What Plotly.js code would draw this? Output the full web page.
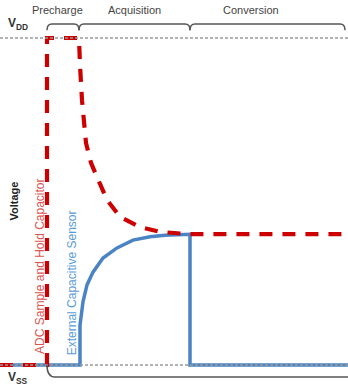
<!DOCTYPE html>
<html>
<head>
<meta charset="utf-8">
<script src="https://cdn.plot.ly/plotly-3.0.1.min.js"></script>
<style>
html,body{margin:0;padding:0;background:#fff;}
#chart{width:348px;height:385px;}
</style>
</head>
<body>
<div id="chart"></div>
<script>
// Time axis (arbitrary units) and voltage (0 = VSS, 1 = VDD)
var phaseNames = ['Precharge', 'Acquisition', 'Conversion'];
var phaseStart = [47, 79, 190];
var phaseEnd = [79, 190, 345];
var phaseLabelX = [57, 134, 251];

var adcTime = [0, 47, 47, 79, 79, 80, 82, 86, 91, 97, 107, 120, 140, 160, 190, 348];
var adcVolt = [0, 0, 1.0, 1.0, 1.0, 0.917, 0.81, 0.679, 0.618, 0.575, 0.505, 0.453, 0.422, 0.407, 0.40, 0.40];

var sensorTime = [0, 80, 80, 83, 87, 93, 103, 117, 133, 150, 165, 190, 190, 348];
var sensorVolt = [0, 0, 0.122, 0.193, 0.245, 0.284, 0.327, 0.358, 0.382, 0.392, 0.397, 0.40, 0, 0];

var vddLevel = 1.0, vssLevel = 0.0;

var W = 348, H = 385;
// voltage range chosen so VDD/VSS fall at their positions in the frame
var yTop = 365 / 327, yBot = -20 / 327;

var traces = [
  {x: sensorTime, y: sensorVolt, mode: 'lines', line: {color: '#4a84c4', width: 3.5}, hoverinfo: 'skip'},
  {x: adcTime, y: adcVolt, mode: 'lines', line: {color: '#cc0000', width: 4.2, dash: '13px,10px'}, hoverinfo: 'skip'}
];

var braceY = 1.043, braceEnd = 1.024;
var shapes = [
  {type: 'line', xref: 'x', yref: 'y', x0: 0, x1: W, y0: vddLevel, y1: vddLevel, line: {color: '#9a9a9a', width: 1.3, dash: '3px,2px'}, layer: 'above'},
  {type: 'line', xref: 'x', yref: 'y', x0: 0, x1: W, y0: vssLevel, y1: vssLevel, line: {color: '#9a9a9a', width: 1.3, dash: '3px,2px'}, layer: 'above'}
];
for (var i = 0; i < phaseNames.length; i++) {
  var a = phaseStart[i], b = phaseEnd[i];
  shapes.push({type: 'path', xref: 'x', yref: 'y',
    path: 'M' + a + ',' + braceEnd + ' Q' + a + ',' + braceY + ' ' + (a + 5) + ',' + braceY +
          ' L' + (b - 5) + ',' + braceY + ' Q' + b + ',' + braceY + ' ' + b + ',' + braceEnd,
    line: {color: '#555555', width: 1.5}});
}
var lowY = -0.0367;
shapes.push({type: 'path', xref: 'x', yref: 'y',
  path: 'M' + phaseStart[0] + ',' + vssLevel + ' Q' + phaseStart[0] + ',' + lowY + ' ' + (phaseStart[0] + 8) + ',' + lowY + ' L' + W + ',' + lowY,
  line: {color: '#555555', width: 1.5}});

var font = 'Liberation Sans, Arial, sans-serif';
var annotations = [];
for (var j = 0; j < phaseNames.length; j++) {
  annotations.push({x: phaseLabelX[j], y: 1.086, xref: 'x', yref: 'y',
    text: phaseNames[j], showarrow: false, xanchor: 'center', yanchor: 'middle',
    font: {family: font, size: 11, color: '#444'}});
}
annotations.push({x: 18, y: 1.043, xref: 'x', yref: 'y', text: '<b>V<sub>DD</sub></b>', showarrow: false,
  xanchor: 'center', yanchor: 'middle', font: {family: font, size: 12, color: '#333'}});
annotations.push({x: 18, y: -0.04, xref: 'x', yref: 'y', text: '<b>V<sub>SS</sub></b>', showarrow: false,
  xanchor: 'center', yanchor: 'middle', font: {family: font, size: 12, color: '#333'}});
annotations.push({x: 13, y: 0.50, xref: 'x', yref: 'y', text: '<b>Voltage</b>', showarrow: false, textangle: -90,
  xanchor: 'center', yanchor: 'middle', font: {family: font, size: 11, color: '#222'}});
annotations.push({x: 40, y: 0.30, xref: 'x', yref: 'y', text: 'ADC Sample and Hold Capacitor', showarrow: false, textangle: -90,
  xanchor: 'center', yanchor: 'middle', font: {family: font, size: 12, color: '#d9534f'}});
annotations.push({x: 72, y: 0.25, xref: 'x', yref: 'y', text: 'External Capacitive Sensor', showarrow: false, textangle: -90,
  xanchor: 'center', yanchor: 'middle', font: {family: font, size: 12, color: '#5b9bd5'}});

var layout = {
  width: W, height: H,
  margin: {l: 0, r: 0, t: 0, b: 0, pad: 0},
  paper_bgcolor: '#fff', plot_bgcolor: '#fff',
  showlegend: false,
  xaxis: {range: [0, W], visible: false, fixedrange: true},
  yaxis: {range: [yBot, yTop], visible: false, fixedrange: true},
  shapes: shapes,
  annotations: annotations
};

Plotly.newPlot('chart', traces, layout, {staticPlot: true, displayModeBar: false});
</script>
</body>
</html>
